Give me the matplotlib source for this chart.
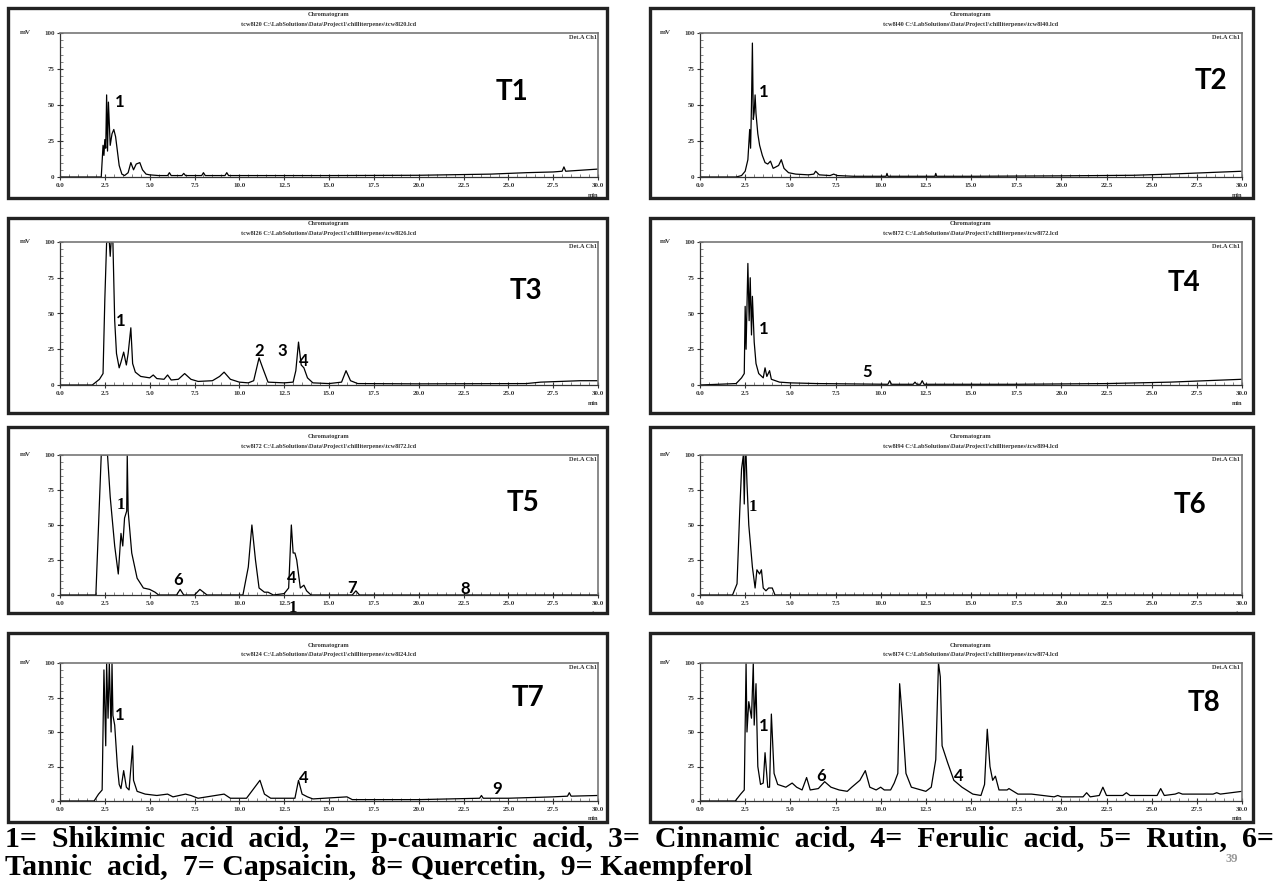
import matplotlib.pyplot as plt
from matplotlib.patches import Rectangle

# retention time (min) and detector signal (mV)
t1_time = [0, 2.3, 2.4, 2.45, 2.5, 2.55, 2.6, 2.65, 2.7, 2.8, 2.9, 3.0, 3.1, 3.2, 3.3, 3.45, 3.6,
           3.8, 3.95, 4.1, 4.25, 4.45, 4.6, 4.8, 5.0, 5.5, 6.0, 6.1, 6.2, 6.8, 6.9, 7.0, 7.9, 8.0,
           8.1, 9.2, 9.3, 9.4, 10.0, 15, 20, 24, 26, 27.5, 28, 28.1, 28.2, 30]
t1_mv = [0, 0, 22, 15, 26, 20, 57, 18, 52, 22, 30, 33, 28, 18, 8, 2, 1, 3, 10, 5, 9, 10, 5, 2,
         1.5, 1, 1, 3, 1, 1, 2.5, 1, 1, 3, 1, 1, 3, 1, 1, 1, 1.2, 2, 3, 3.5, 4, 7, 4, 5.5]

t2_time = [0, 2.0, 2.3, 2.5, 2.65, 2.75, 2.8, 2.85, 2.9, 2.95, 3.0, 3.05, 3.1, 3.2, 3.3, 3.45,
           3.6, 3.75, 3.9, 4.05, 4.2, 4.35, 4.5, 4.65, 4.9, 5.3, 6.0, 6.3, 6.4, 6.6, 7.2, 7.4,
           7.6, 8.5, 10.3, 10.35, 10.4, 13.0, 13.05, 13.1, 15.0, 20.0, 24.0, 26.0, 28.0, 30.0]
t2_mv = [0, 0, 1, 4, 12, 33, 20, 50, 93, 40, 45, 57, 44, 30, 22, 15, 10, 9, 11, 6, 7, 8, 12, 6,
         3, 2, 1.5, 2, 4, 1.5, 1, 2, 1, 0.5, 0.5, 2.5, 0.5, 0.5, 2.5, 0.5, 0.5, 0.8, 1.2, 2, 3, 4]

t3_time = [0, 1.8, 2.2, 2.4, 2.5, 2.6, 2.75, 2.8, 2.85, 2.95, 3.05, 3.15, 3.3, 3.4, 3.55, 3.7,
           3.8, 3.95, 4.05, 4.2, 4.5, 5.0, 5.2, 5.4, 5.8, 6.0, 6.2, 6.6, 6.95, 7.3, 7.7, 8.5,
           8.9, 9.15, 9.5, 10.0, 10.5, 10.8, 11.1, 11.3, 11.6, 12.5, 13.0, 13.15, 13.3, 13.45,
           13.6, 13.8, 14.1, 15.0, 15.7, 15.95, 16.2, 16.6, 20.0, 26.0, 26.8, 29.0, 30.0]
t3_mv = [0, 0, 4, 8, 60, 100, 100, 90, 100, 100, 45, 22, 12, 16, 23, 14, 22, 40, 15, 9, 6, 5,
         7, 4.5, 4, 7, 3.5, 4, 8, 4, 2.5, 3, 6, 9, 4, 2, 1.5, 3, 19, 12, 2, 1.5, 2, 10, 30, 14,
         12, 5, 1.5, 1, 2, 10, 3, 1, 0.8, 1, 2, 3, 3]

t4_time = [0, 2.0, 2.3, 2.45, 2.5, 2.55, 2.65, 2.72, 2.78, 2.85, 2.9, 3.0, 3.1, 3.25, 3.5,
           3.6, 3.7, 3.85, 3.95, 4.4, 5.0, 6.5, 10.4, 10.5, 10.6, 11.8, 11.9, 12.0, 12.2, 12.3,
           12.4, 17.5, 22.5, 26.0, 28.0, 30.0]
t4_mv = [0, 1, 5, 8, 55, 25, 85, 45, 75, 35, 62, 30, 15, 8, 5, 12, 6, 10, 4, 2, 1.5, 1, 0.5,
         3, 0.5, 0.5, 2, 0.5, 0.5, 3, 0.5, 0.5, 1, 2, 3, 4]

t5_time = [0, 2.0, 2.3, 2.65, 2.8, 3.05, 3.25, 3.4, 3.5, 3.6, 3.72, 3.75, 3.8, 4.0, 4.3, 4.65,
           5.0, 5.3, 5.5, 6.5, 6.7, 6.9, 7.5, 7.8, 8.2, 10.2, 10.5, 10.7, 10.9, 11.1, 11.4,
           11.6, 11.9, 12.5, 12.75, 12.9, 13.0, 13.1, 13.2, 13.4, 13.6, 13.75, 14.0, 16.3,
           16.5, 16.7, 30.0]
t5_mv = [0, 0, 100, 100, 70, 35, 15, 44, 35, 55, 60, 100, 60, 30, 12, 5, 4, 2, 0, 0, 4, 0, 0,
         4, 0, 0, 20, 50, 25, 5, 2, 2, 0, 1, 5, 50, 30, 30, 25, 5, 7, 3, 0, 0, 3, 0, 0]

t6_time = [0, 1.8, 2.05, 2.2, 2.3, 2.4, 2.45, 2.5, 2.55, 2.6, 2.7, 2.9, 3.05, 3.15, 3.3, 3.4,
           3.5, 3.65, 3.8, 4.0, 4.15, 30.0]
t6_mv = [0, 0, 8, 60, 90, 100, 65, 100, 100, 80, 50, 20, 5, 18, 15, 18, 5, 3, 5, 5, 0, 0]

t7_time = [0, 1.9, 2.15, 2.35, 2.45, 2.55, 2.6, 2.68, 2.75, 2.85, 2.9, 2.95, 3.05, 3.2, 3.3,
           3.4, 3.55, 3.7, 3.85, 4.05, 4.1, 4.3, 4.75, 5.4, 6.0, 6.3, 7.0, 7.3, 7.7, 9.15, 9.5,
           10.4, 11.15, 11.4, 11.75, 13.1, 13.3, 13.5, 13.8, 14.1, 16.0, 16.3, 20.0, 23.4,
           23.5, 23.6, 25.0, 27.5, 28.3, 28.4, 28.5, 30.0]
t7_mv = [0, 0, 5, 8, 95, 40, 100, 60, 100, 50, 100, 62, 55, 25, 12, 9, 22, 10, 8, 40, 15, 7,
         5, 4, 5, 3, 5, 4, 2, 5, 2, 2, 15, 5, 2, 2, 15, 5, 3, 1.5, 3, 1, 1, 2, 4, 2, 2, 3, 3.5,
         6, 3.5, 4]

t8_time = [0, 1.95, 2.25, 2.45, 2.55, 2.6, 2.7, 2.85, 2.95, 3.0, 3.1, 3.2, 3.35, 3.5, 3.6,
           3.75, 3.85, 3.95, 4.1, 4.3, 4.75, 5.1, 5.35, 5.65, 5.9, 6.1, 6.55, 6.9, 7.25, 7.7,
           8.15, 8.4, 8.85, 9.15, 9.4, 9.75, 10.0, 10.2, 10.55, 10.75, 10.95, 11.05, 11.2,
           11.4, 11.7, 12.5, 12.8, 13.05, 13.2, 13.3, 13.4, 13.7, 14.05, 14.5, 15.1, 15.55,
           15.75, 15.9, 16.05, 16.2, 16.35, 16.55, 17.0, 17.1, 17.6, 18.35, 19.6, 19.8, 20.0,
           21.2, 21.4, 21.6, 22.1, 22.3, 22.5, 23.4, 23.6, 23.8, 25.3, 25.5, 25.7, 26.3, 26.5,
           26.7, 28.4, 28.6, 28.8, 30.0]
t8_mv = [0, 0, 5, 8, 100, 50, 72, 60, 100, 55, 85, 25, 12, 13, 35, 10, 10, 63, 20, 12, 10,
         13, 10, 8, 17, 8, 9, 14, 10, 8, 7, 10, 15, 22, 10, 8, 10, 8, 8, 13, 20, 85, 60, 20,
         10, 7, 10, 30, 100, 90, 40, 28, 15, 10, 5, 4, 12, 52, 25, 15, 18, 8, 8, 9, 5, 5, 3,
         4, 3, 3, 6, 3, 4, 10, 4, 4, 6, 4, 4, 9, 4, 5, 6, 5, 5, 6, 5, 7]

panel_names = ['T1', 'T2', 'T3', 'T4', 'T5', 'T6', 'T7', 'T8']
sample_ids = ['tcw8l20', 'tcw8l40', 'tcw8l26', 'tcw8l72', 'tcw8l72', 'tcw8l94', 'tcw8l24', 'tcw8l74']
traces = [(t1_time, t1_mv), (t2_time, t2_mv), (t3_time, t3_mv), (t4_time, t4_mv),
          (t5_time, t5_mv), (t6_time, t6_mv), (t7_time, t7_mv), (t8_time, t8_mv)]

# peak labels: (text, time, mV, serif?)
peak_labels = [
    [('1', 3.35, 52, False)],
    [('1', 3.5, 59, False)],
    [('1', 3.4, 45, False), ('2', 11.1, 24, False), ('3', 12.4, 24, False), ('4', 13.6, 17, False)],
    [('1', 3.55, 39, False), ('5', 9.25, 9, False)],
    [('1', 3.4, 64, True), ('6', 6.6, 11, False), ('4', 12.9, 12, False), ('7', 16.3, 5, False),
     ('8', 22.6, 4, False), ('1', 13.0, -9, True)],
    [('1', 2.9, 63, True)],
    [('1', 3.35, 62, False), ('4', 13.6, 17, False), ('9', 24.4, 9, False)],
    [('1', 3.55, 54, False), ('6', 6.7, 18, False), ('4', 14.3, 18, False)],
]
big_label_pos = [(25.2, 59), (28.3, 67), (26.0, 66), (26.8, 71),
                 (25.8, 66), (27.1, 64), (26.1, 75), (27.9, 71)]

caption = ['1=  Shikimic  acid  acid,  2=  p-caumaric  acid,  3=  Cinnamic  acid,  4=  Ferulic  acid,  5=  Rutin,  6=',
           'Tannic  acid,  7= Capsaicin,  8= Quercetin,  9= Kaempferol']

W, H = 1287, 886
fig = plt.figure(figsize=(W / 100, H / 100), dpi=100)

# pixel layout of the panels
col_axes = [(60, 598), (700, 1242)]
col_frame = [(8, 607), (650, 1253)]
row_axes = [(33, 177), (242, 385), (455, 595), (663, 801)]
row_frame = [(8, 198), (218, 413), (427, 613), (633, 822)]

xticks = [0.0, 2.5, 5.0, 7.5, 10.0, 12.5, 15.0, 17.5, 20.0, 22.5, 25.0, 27.5, 30.0]
yticks = [0, 25, 50, 75, 100]

for i, name in enumerate(panel_names):
    r, c = divmod(i, 2)
    fx0, fx1 = col_frame[c]
    fy0, fy1 = row_frame[r]
    fig.patches.append(Rectangle((fx0 / W, 1 - fy1 / H), (fx1 - fx0) / W, (fy1 - fy0) / H,
                                 transform=fig.transFigure, fill=False, ec='#222222', lw=2.4))
    ax0, ax1 = col_axes[c]
    ay0, ay1 = row_axes[r]
    ax = fig.add_axes([ax0 / W, 1 - ay1 / H, (ax1 - ax0) / W, (ay1 - ay0) / H])
    t, mv = traces[i]
    ax.plot(t, mv, color='black', lw=0.9)
    ax.set_xlim(0, 30)
    ax.set_ylim(0, 100)
    ax.set_xticks(xticks)
    ax.set_xticklabels(['%.1f' % v for v in xticks])
    ax.set_yticks(yticks)
    ax.set_xticks([v * 0.5 for v in range(61)], minor=True)
    ax.set_yticks(list(range(0, 101, 5)), minor=True)
    ax.tick_params(which='major', direction='inout', length=4, width=0.8, labelsize=5,
                   pad=2, colors='#333333')
    ax.tick_params(which='minor', direction='in', length=2, width=0.5, colors='#555555')
    for lab in ax.get_xticklabels() + ax.get_yticklabels():
        lab.set_family('Liberation Serif')
        lab.set_weight('bold')
    for s in ['top', 'right']:
        ax.spines[s].set_color('#777777')
        ax.spines[s].set_linewidth(1.2)
    for s in ['left', 'bottom']:
        ax.spines[s].set_color('#333333')
        ax.spines[s].set_linewidth(0.9)
    ax.text(-0.075, 1.0, 'mV', transform=ax.transAxes, fontsize=5, family='Liberation Serif',
            weight='bold', ha='left', va='center', color='#333333')
    ax.text(0.997, 0.985, 'Det.A Ch1', transform=ax.transAxes, fontsize=4.5,
            family='Liberation Serif', weight='bold', ha='right', va='top', color='#333333')
    ax.text(1.0, -0.13, 'min', transform=ax.transAxes, fontsize=4.5, family='Liberation Serif',
            weight='bold', ha='right', va='center', color='#333333')
    ax.text(0.5, 1.13, 'Chromatogram', transform=ax.transAxes, fontsize=4.5,
            family='Liberation Serif', weight='bold', ha='center', va='center', color='#333333')
    ax.text(0.5, 1.06, sample_ids[i] + ' C:\\LabSolutions\\Data\\Project1\\chilliterpenes\\'
            + sample_ids[i] + '.lcd', transform=ax.transAxes, fontsize=4.5,
            family='Liberation Serif', weight='bold', ha='center', va='center', color='#333333')
    for txt, x, y, serif in peak_labels[i]:
        ax.text(x, y, txt, fontsize=12, weight='bold', ha='center', va='center',
                family='Liberation Serif' if serif else 'Lato', clip_on=False)
    bx, by = big_label_pos[i]
    ax.text(bx, by, name, fontsize=20, weight='bold', family='Lato', ha='center', va='center')

fig.text(5 / W, 1 - 847 / H, caption[0], fontsize=21.5, family='Liberation Serif',
         weight='bold', ha='left', va='baseline')
fig.text(5 / W, 1 - 875 / H, caption[1], fontsize=21.5, family='Liberation Serif',
         weight='bold', ha='left', va='baseline')
fig.text(1232 / W, 1 - 859 / H, '39', fontsize=9, family='Liberation Serif', weight='bold',
         color='#999999', ha='center', va='center')

fig.savefig('out.png', dpi=100)
